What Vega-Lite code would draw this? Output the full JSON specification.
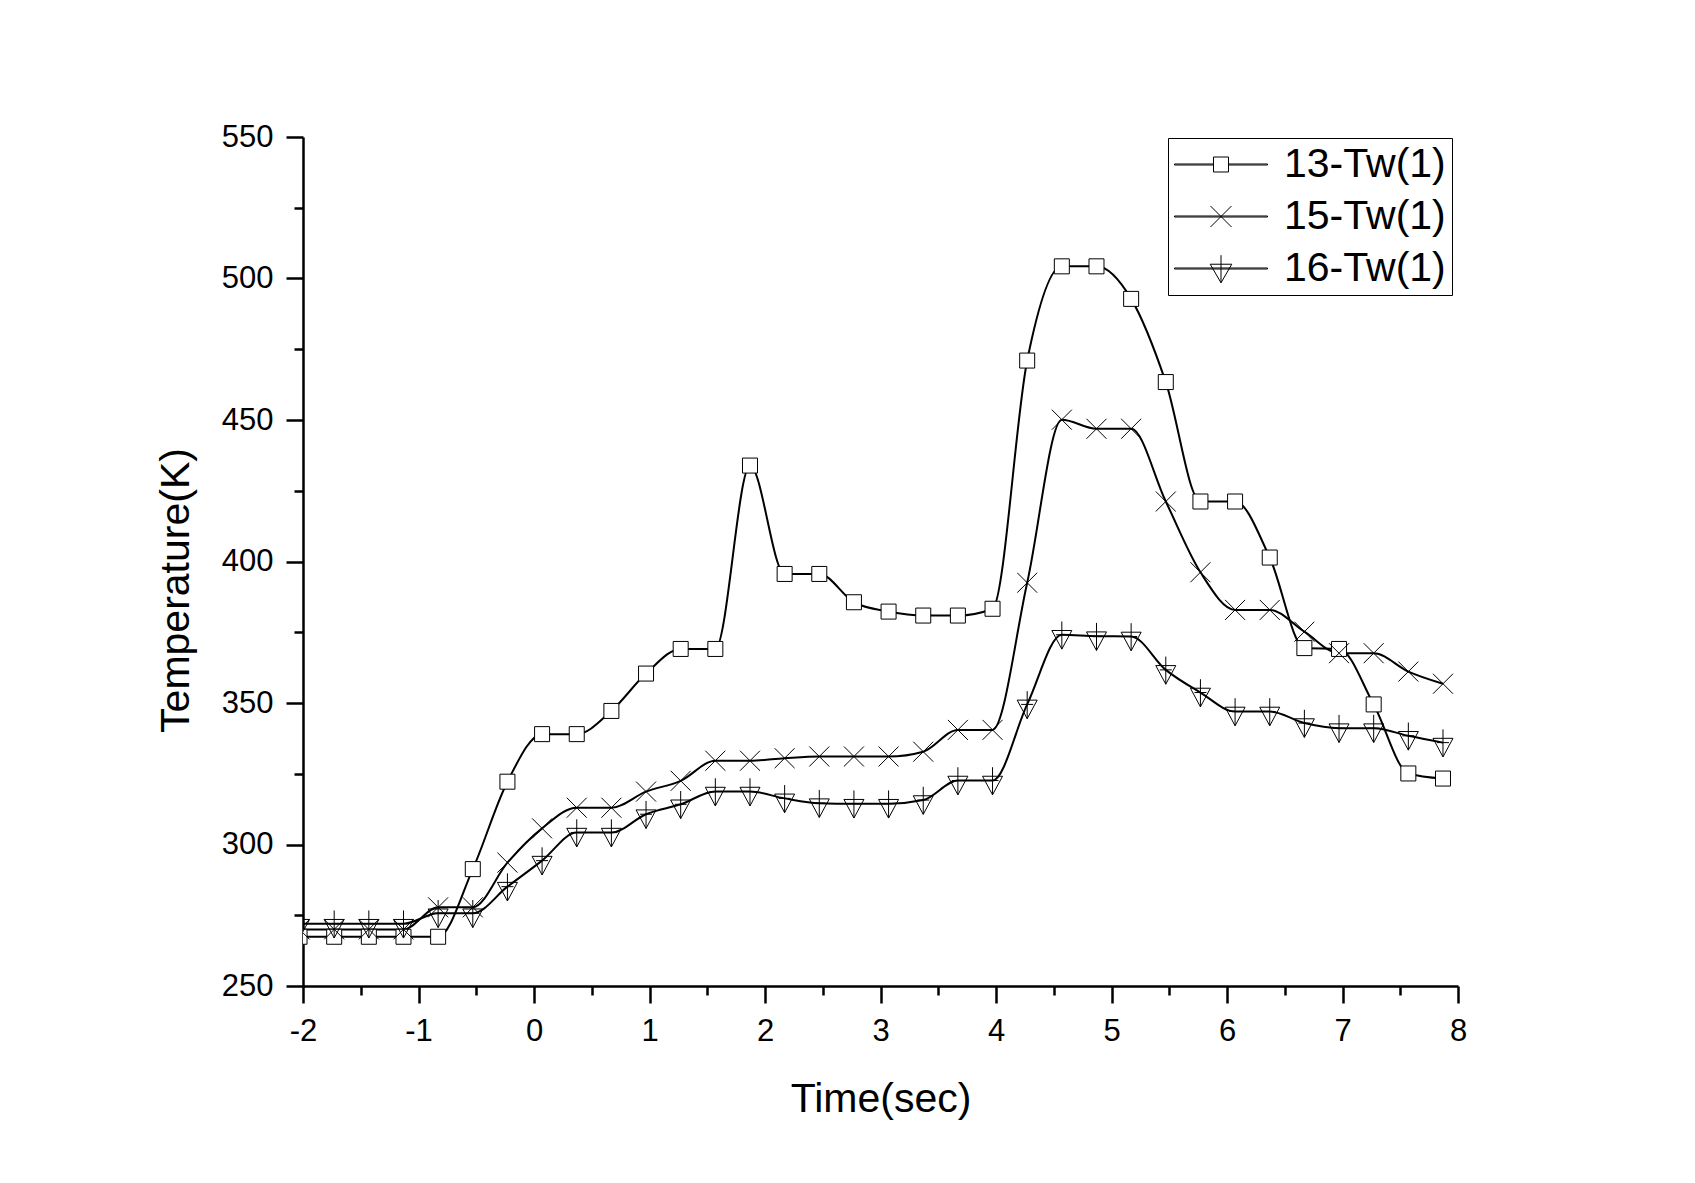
{
  "$schema": "https://vega.github.io/schema/vega-lite/v6.json",
  "width": 1155,
  "height": 849,
  "autosize": {"type": "none"},
  "padding": {"left": 303, "top": 137, "right": 237, "bottom": 197},
  "background": "white",
  "config": {
    "view": {"stroke": null},
    "font": "Liberation Sans",
    "axis": {
      "grid": false,
      "domainColor": "black",
      "domainWidth": 2.5,
      "tickColor": "black",
      "tickWidth": 2.5,
      "labelColor": "black",
      "labelFont": "Liberation Sans",
      "labelFontSize": 31,
      "labelOverlap": false,
      "labelFlush": false,
      "titleFont": "Liberation Sans",
      "titleFontSize": 41,
      "titleFontWeight": "normal",
      "titleColor": "black"
    }
  },
  "datasets": {
    "temps": [
      {"t": -2.03, "s": "13-Tw(1)", "K": 267.4}, {"t": -1.73, "s": "13-Tw(1)", "K": 267.4}, {"t": -1.43, "s": "13-Tw(1)", "K": 267.4}, {"t": -1.13, "s": "13-Tw(1)", "K": 267.4}, {"t": -0.83, "s": "13-Tw(1)", "K": 267.4}, {"t": -0.53, "s": "13-Tw(1)", "K": 291.3}, {"t": -0.23, "s": "13-Tw(1)", "K": 322.2}, {"t": 0.07, "s": "13-Tw(1)", "K": 339}, {"t": 0.37, "s": "13-Tw(1)", "K": 339}, {"t": 0.67, "s": "13-Tw(1)", "K": 347.2}, {"t": 0.97, "s": "13-Tw(1)", "K": 360.4}, {"t": 1.27, "s": "13-Tw(1)", "K": 369.1}, {"t": 1.57, "s": "13-Tw(1)", "K": 369.1}, {"t": 1.87, "s": "13-Tw(1)", "K": 433.9}, {"t": 2.17, "s": "13-Tw(1)", "K": 395.6}, {"t": 2.47, "s": "13-Tw(1)", "K": 395.6}, {"t": 2.77, "s": "13-Tw(1)", "K": 385.6}, {"t": 3.07, "s": "13-Tw(1)", "K": 382.3}, {"t": 3.37, "s": "13-Tw(1)", "K": 380.9}, {"t": 3.67, "s": "13-Tw(1)", "K": 380.9}, {"t": 3.97, "s": "13-Tw(1)", "K": 383.3}, {"t": 4.27, "s": "13-Tw(1)", "K": 471}, {"t": 4.57, "s": "13-Tw(1)", "K": 504.3}, {"t": 4.87, "s": "13-Tw(1)", "K": 504.3}, {"t": 5.17, "s": "13-Tw(1)", "K": 492.8}, {"t": 5.47, "s": "13-Tw(1)", "K": 463.4}, {"t": 5.77, "s": "13-Tw(1)", "K": 421.2}, {"t": 6.07, "s": "13-Tw(1)", "K": 421.2}, {"t": 6.37, "s": "13-Tw(1)", "K": 401.4}, {"t": 6.67, "s": "13-Tw(1)", "K": 369.4}, {"t": 6.97, "s": "13-Tw(1)", "K": 369.1}, {"t": 7.27, "s": "13-Tw(1)", "K": 349.5}, {"t": 7.57, "s": "13-Tw(1)", "K": 325.1}, {"t": 7.87, "s": "13-Tw(1)", "K": 323.3},
      {"t": -2.03, "s": "15-Tw(1)", "K": 270}, {"t": -1.73, "s": "15-Tw(1)", "K": 270}, {"t": -1.43, "s": "15-Tw(1)", "K": 270}, {"t": -1.13, "s": "15-Tw(1)", "K": 270}, {"t": -0.83, "s": "15-Tw(1)", "K": 277.8}, {"t": -0.53, "s": "15-Tw(1)", "K": 277.8}, {"t": -0.23, "s": "15-Tw(1)", "K": 293.6}, {"t": 0.07, "s": "15-Tw(1)", "K": 305.7}, {"t": 0.37, "s": "15-Tw(1)", "K": 313}, {"t": 0.67, "s": "15-Tw(1)", "K": 313}, {"t": 0.97, "s": "15-Tw(1)", "K": 318.7}, {"t": 1.27, "s": "15-Tw(1)", "K": 322.5}, {"t": 1.57, "s": "15-Tw(1)", "K": 329.6}, {"t": 1.87, "s": "15-Tw(1)", "K": 329.6}, {"t": 2.17, "s": "15-Tw(1)", "K": 330.5}, {"t": 2.47, "s": "15-Tw(1)", "K": 331.1}, {"t": 2.77, "s": "15-Tw(1)", "K": 331.1}, {"t": 3.07, "s": "15-Tw(1)", "K": 331.1}, {"t": 3.37, "s": "15-Tw(1)", "K": 332.8}, {"t": 3.67, "s": "15-Tw(1)", "K": 340.5}, {"t": 3.97, "s": "15-Tw(1)", "K": 340.5}, {"t": 4.27, "s": "15-Tw(1)", "K": 392.5}, {"t": 4.57, "s": "15-Tw(1)", "K": 450.1}, {"t": 4.87, "s": "15-Tw(1)", "K": 446.9}, {"t": 5.17, "s": "15-Tw(1)", "K": 446.9}, {"t": 5.47, "s": "15-Tw(1)", "K": 421.2}, {"t": 5.77, "s": "15-Tw(1)", "K": 396.2}, {"t": 6.07, "s": "15-Tw(1)", "K": 382.9}, {"t": 6.37, "s": "15-Tw(1)", "K": 382.9}, {"t": 6.67, "s": "15-Tw(1)", "K": 375.2}, {"t": 6.97, "s": "15-Tw(1)", "K": 367.6}, {"t": 7.27, "s": "15-Tw(1)", "K": 367.6}, {"t": 7.57, "s": "15-Tw(1)", "K": 361.1}, {"t": 7.87, "s": "15-Tw(1)", "K": 356.8},
      {"t": -2.03, "s": "16-Tw(1)", "K": 272}, {"t": -1.73, "s": "16-Tw(1)", "K": 272}, {"t": -1.43, "s": "16-Tw(1)", "K": 272}, {"t": -1.13, "s": "16-Tw(1)", "K": 272}, {"t": -0.83, "s": "16-Tw(1)", "K": 275.7}, {"t": -0.53, "s": "16-Tw(1)", "K": 275.7}, {"t": -0.23, "s": "16-Tw(1)", "K": 285.1}, {"t": 0.07, "s": "16-Tw(1)", "K": 294.3}, {"t": 0.37, "s": "16-Tw(1)", "K": 304.2}, {"t": 0.67, "s": "16-Tw(1)", "K": 304.2}, {"t": 0.97, "s": "16-Tw(1)", "K": 310.7}, {"t": 1.27, "s": "16-Tw(1)", "K": 314.2}, {"t": 1.57, "s": "16-Tw(1)", "K": 318.7}, {"t": 1.87, "s": "16-Tw(1)", "K": 318.7}, {"t": 2.17, "s": "16-Tw(1)", "K": 316.3}, {"t": 2.47, "s": "16-Tw(1)", "K": 314.6}, {"t": 2.77, "s": "16-Tw(1)", "K": 314.4}, {"t": 3.07, "s": "16-Tw(1)", "K": 314.4}, {"t": 3.37, "s": "16-Tw(1)", "K": 315.7}, {"t": 3.67, "s": "16-Tw(1)", "K": 322.6}, {"t": 3.97, "s": "16-Tw(1)", "K": 322.6}, {"t": 4.27, "s": "16-Tw(1)", "K": 349.5}, {"t": 4.57, "s": "16-Tw(1)", "K": 374.1}, {"t": 4.87, "s": "16-Tw(1)", "K": 373.6}, {"t": 5.17, "s": "16-Tw(1)", "K": 373.5}, {"t": 5.47, "s": "16-Tw(1)", "K": 361.7}, {"t": 5.77, "s": "16-Tw(1)", "K": 353.7}, {"t": 6.07, "s": "16-Tw(1)", "K": 347}, {"t": 6.37, "s": "16-Tw(1)", "K": 347}, {"t": 6.67, "s": "16-Tw(1)", "K": 342.9}, {"t": 6.97, "s": "16-Tw(1)", "K": 341.1}, {"t": 7.27, "s": "16-Tw(1)", "K": 341.1}, {"t": 7.57, "s": "16-Tw(1)", "K": 338.4}, {"t": 7.87, "s": "16-Tw(1)", "K": 336}
    ]
  },
  "layer": [
    {
      "data": {"name": "temps"},
      "mark": {"type": "line", "interpolate": "monotone", "strokeWidth": 2, "color": "black", "clip": true},
      "encoding": {
        "x": {
          "field": "t", "type": "quantitative",
          "scale": {"domain": [-2, 8], "nice": false, "zero": false},
          "axis": {
            "title": "Time(sec)",
            "values": [-2, -1.5, -1, -0.5, 0, 0.5, 1, 1.5, 2, 2.5, 3, 3.5, 4, 4.5, 5, 5.5, 6, 6.5, 7, 7.5, 8],
            "labelExpr": "datum.value % 1 === 0 ? '' + datum.value : ''",
            "tickSize": {"condition": {"test": "datum.value % 1 === 0", "value": 17}, "value": 9},
            "labelPadding": 13,
            "titleY": 125,
            "titleBaseline": "alphabetic"
          }
        },
        "y": {
          "field": "K", "type": "quantitative",
          "scale": {"domain": [250, 550], "nice": false, "zero": false},
          "axis": {
            "title": "Temperature(K)",
            "values": [250, 275, 300, 325, 350, 375, 400, 425, 450, 475, 500, 525, 550],
            "labelExpr": "datum.value % 50 === 0 ? '' + datum.value : ''",
            "tickSize": {"condition": {"test": "datum.value % 50 === 0", "value": 17}, "value": 9},
            "labelPadding": 13,
            "titleX": -115,
            "titleY": 453,
            "titleAlign": "center",
            "titleBaseline": "alphabetic"
          }
        },
        "detail": {"field": "s", "type": "nominal"}
      }
    },
    {
      "data": {"name": "temps"},
      "mark": {"type": "point", "stroke": "black", "strokeWidth": 1, "opacity": 1, "size": 400, "clip": true},
      "encoding": {
        "x": {"field": "t", "type": "quantitative"},
        "y": {"field": "K", "type": "quantitative"},
        "shape": {
          "field": "s", "type": "nominal",
          "scale": {
            "domain": ["13-Tw(1)", "15-Tw(1)", "16-Tw(1)"],
            "range": [
              "M -0.75 -0.75 L 0.75 -0.75 L 0.75 0.75 L -0.75 0.75 Z",
              "M -1 -1 L 1 1 M -1 1 L 1 -1",
              "M -1 -0.43 L 1 -0.43 L 0 1.43 Z M 0 -1.33 L 0 1.43 M -0.6 0 L 0.6 0"
            ]
          },
          "legend": null
        },
        "fill": {"condition": {"test": "datum.s === '13-Tw(1)'", "value": "white"}, "value": "transparent"}
      }
    },
    {
      "data": {"name": "temps"},
      "transform": [{"filter": "datum.t > 100"}],
      "mark": {"type": "point", "color": "black", "filled": false, "strokeWidth": 1, "opacity": 1},
      "encoding": {
        "x": {"field": "t", "type": "quantitative"},
        "y": {"field": "K", "type": "quantitative"},
        "shape": {
          "field": "s", "type": "nominal",
          "scale": {
            "domain": ["13-Tw(1)", "15-Tw(1)", "16-Tw(1)"],
            "range": [
              "M -1 -0.011 L -0.161 -0.011 L -0.161 0.011 L -1 0.011 Z M 0.161 -0.011 L 1 -0.011 L 1 0.011 L 0.161 0.011 Z M -0.161 -0.161 L 0.161 -0.161 L 0.161 0.161 L -0.161 0.161 Z",
              "M -1 -0.011 L 1 -0.011 L 1 0.011 L -1 0.011 Z M -0.226 -0.226 L 0.226 0.226 M -0.226 0.226 L 0.226 -0.226",
              "M -1 -0.011 L 1 -0.011 L 1 0.011 L -1 0.011 Z M -0.232 -0.092 L 0.232 -0.092 L 0 0.308 Z M 0 -0.286 L 0 0.308"
            ]
          },
          "legend": {
            "title": null,
            "orient": "none",
            "legendX": 865,
            "legendY": 1,
            "strokeColor": "black",
            "fillColor": "white",
            "padding": 6,
            "clipHeight": 41,
            "rowPadding": 10,
            "symbolSize": 8649,
            "symbolStrokeWidth": 1,
            "symbolStrokeColor": "black",
            "symbolFillColor": "transparent",
            "symbolOpacity": 1,
            "labelFont": "Liberation Sans",
            "labelFontSize": 41,
            "labelColor": "black",
            "labelOffset": 16,
            "labelLimit": 0
          }
        }
      }
    },
    {
      "mark": {"type": "text", "text": "1st Launch", "align": "right", "baseline": "alphabetic", "fontSize": 41, "font": "Liberation Sans", "color": "black"},
      "encoding": {
        "x": {"datum": 8, "type": "quantitative"},
        "y": {"datum": 266, "type": "quantitative"}
      }
    }
  ],
  "resolve": {"scale": {"shape": "independent"}}
}
